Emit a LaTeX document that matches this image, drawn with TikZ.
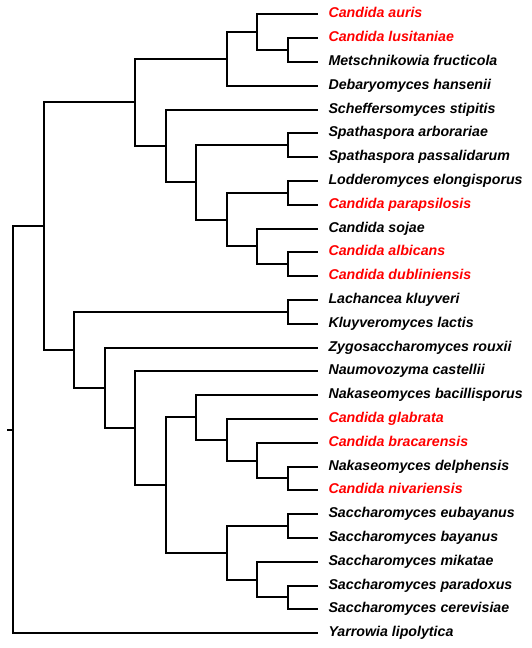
\documentclass[tikz,border=0pt]{standalone}
\usepackage{fontspec}
\setmainfont{Liberation Sans}
\definecolor{spred}{RGB}{255,0,0}
\begin{document}
\begin{tikzpicture}[x=1pt,y=-1pt,
  leaf/.style={anchor=west,inner xsep=10.3pt,inner ysep=0pt,outer sep=0pt,
    font=\fontsize{14.2}{17}\selectfont\bfseries\itshape,
    text height=0.7em,text depth=0pt},
  branch/.style={draw=black,line width=2pt,line join=miter}]
\useasboundingbox (0,0) rectangle (531,648);
% leaves
\foreach \i/\t/\c in {
 0/Candida auris/spred,
 1/Candida lusitaniae/spred,
 2/Metschnikowia fructicola/black,
 3/Debaryomyces hansenii/black,
 4/Scheffersomyces stipitis/black,
 5/Spathaspora arborariae/black,
 6/Spathaspora passalidarum/black,
 7/Lodderomyces elongisporus/black,
 8/Candida parapsilosis/spred,
 9/Candida sojae/black,
 10/Candida albicans/spred,
 11/Candida dubliniensis/spred,
 12/Lachancea kluyveri/black,
 13/Kluyveromyces lactis/black,
 14/Zygosaccharomyces rouxii/black,
 15/Naumovozyma castellii/black,
 16/Nakaseomyces bacillisporus/black,
 17/Candida glabrata/spred,
 18/Candida bracarensis/spred,
 19/Nakaseomyces delphensis/black,
 20/Candida nivariensis/spred,
 21/Saccharomyces eubayanus/black,
 22/Saccharomyces bayanus/black,
 23/Saccharomyces mikatae/black,
 24/Saccharomyces paradoxus/black,
 25/Saccharomyces cerevisiae/black,
 26/Yarrowia lipolytica/black}
 \node[leaf,text=\c] (l\i) at (318.2,{14.3+23.8*\i}) {\t};
% internal nodes (x = level, y = midpoint)
\coordinate (a1) at (287.5,50.0);
\coordinate (a2) at (257.1,32.15);
\coordinate (a3) at (226.6,58.9);
\coordinate (b1) at (287.5,145.2);
\coordinate (b2) at (287.5,192.8);
\coordinate (b3) at (287.5,264.2);
\coordinate (b4) at (257.1,246.35);
\coordinate (b5) at (226.6,219.6);
\coordinate (b6) at (196.1,182.4);
\coordinate (b7) at (165.6,145.95);
\coordinate (nA) at (135.2,102.4);
\coordinate (c1) at (287.5,311.8);
\coordinate (d1) at (287.5,478.4);
\coordinate (d2) at (257.1,460.55);
\coordinate (d3) at (226.6,439.7);
\coordinate (d4) at (196.1,417.4);
\coordinate (e1) at (287.5,526.0);
\coordinate (e2) at (287.5,597.4);
\coordinate (e3) at (257.1,579.55);
\coordinate (e4) at (226.6,552.8);
\coordinate (f1) at (165.6,485.1);
\coordinate (f2) at (135.2,428.2);
\coordinate (f3) at (104.7,387.85);
\coordinate (nB) at (74.2,349.8);
\coordinate (n1) at (43.8,226.1);
\coordinate (root) at (13.3,429.6);
\coordinate (stub) at (7,429.6);
% branches
\draw[branch] (stub) -- (root);
\draw[branch] (root) |- (n1);
\draw[branch] (root) |- (l26.west);
\draw[branch] (n1) |- (nA);
\draw[branch] (n1) |- (nB);
% CTG clade
\draw[branch] (nA) |- (a3);
\draw[branch] (nA) |- (b7);
\draw[branch] (a3) |- (a2);
\draw[branch] (a3) |- (l3.west);
\draw[branch] (a2) |- (l0.west);
\draw[branch] (a2) |- (a1);
\draw[branch] (a1) |- (l1.west);
\draw[branch] (a1) |- (l2.west);
\draw[branch] (b7) |- (l4.west);
\draw[branch] (b7) |- (b6);
\draw[branch] (b6) |- (b1);
\draw[branch] (b6) |- (b5);
\draw[branch] (b1) |- (l5.west);
\draw[branch] (b1) |- (l6.west);
\draw[branch] (b5) |- (b2);
\draw[branch] (b5) |- (b4);
\draw[branch] (b2) |- (l7.west);
\draw[branch] (b2) |- (l8.west);
\draw[branch] (b4) |- (l9.west);
\draw[branch] (b4) |- (b3);
\draw[branch] (b3) |- (l10.west);
\draw[branch] (b3) |- (l11.west);
% Saccharomycetaceae
\draw[branch] (nB) |- (c1);
\draw[branch] (nB) |- (f3);
\draw[branch] (c1) |- (l12.west);
\draw[branch] (c1) |- (l13.west);
\draw[branch] (f3) |- (l14.west);
\draw[branch] (f3) |- (f2);
\draw[branch] (f2) |- (l15.west);
\draw[branch] (f2) |- (f1);
\draw[branch] (f1) |- (d4);
\draw[branch] (f1) |- (e4);
\draw[branch] (d4) |- (l16.west);
\draw[branch] (d4) |- (d3);
\draw[branch] (d3) |- (l17.west);
\draw[branch] (d3) |- (d2);
\draw[branch] (d2) |- (l18.west);
\draw[branch] (d2) |- (d1);
\draw[branch] (d1) |- (l19.west);
\draw[branch] (d1) |- (l20.west);
\draw[branch] (e4) |- (e1);
\draw[branch] (e4) |- (e3);
\draw[branch] (e1) |- (l21.west);
\draw[branch] (e1) |- (l22.west);
\draw[branch] (e3) |- (l23.west);
\draw[branch] (e3) |- (e2);
\draw[branch] (e2) |- (l24.west);
\draw[branch] (e2) |- (l25.west);
\end{tikzpicture}
\end{document}
